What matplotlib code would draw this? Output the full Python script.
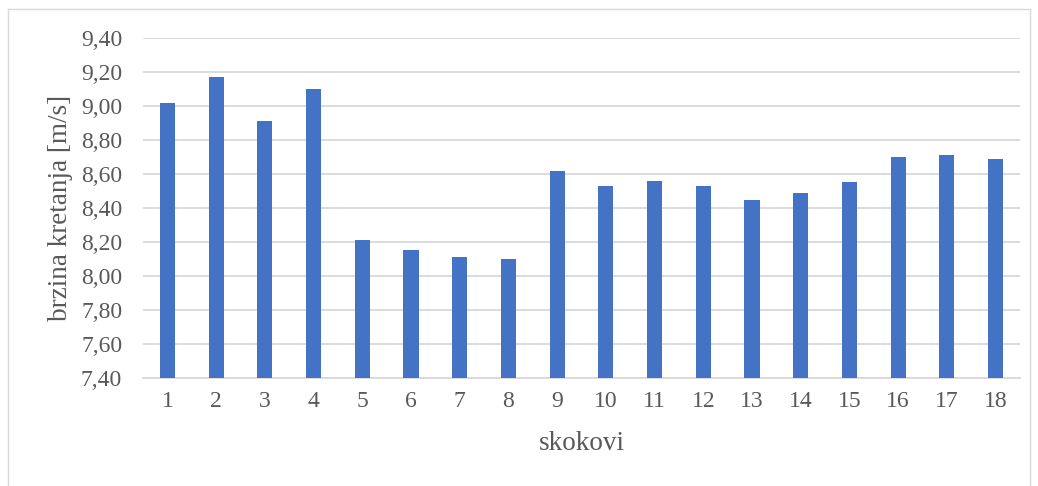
import matplotlib
matplotlib.use("Agg")
import matplotlib.pyplot as plt
from matplotlib.ticker import FuncFormatter, MultipleLocator
from matplotlib.lines import Line2D

# Jump numbers and movement speed per jump
jumps = [str(i) for i in range(1, 19)]
speeds = [9.02, 9.17, 8.91, 9.10, 8.21, 8.15, 8.11, 8.10, 8.62,
          8.53, 8.56, 8.53, 8.45, 8.49, 8.55, 8.70, 8.71, 8.69]
y_min, y_max, y_step = 7.40, 9.40, 0.20

plt.rcParams['font.family'] = ['Liberation Serif', 'DejaVu Serif']
text_color = '#595959'
grid_color = '#d9d9d9'
bar_color = '#4472C4'

fig = plt.figure(figsize=(10.38, 4.86), dpi=100)
ax = fig.add_axes([143 / 1038, 1 - 378 / 486, (1020 - 143) / 1038, (378 - 38) / 486])

x = list(range(len(jumps)))
ax.bar(x, [s - y_min for s in speeds], bottom=y_min, width=0.31, color=bar_color, zorder=3)

ax.set_xlim(-0.5, len(jumps) - 0.5)
ax.set_ylim(y_min, y_max)
ax.yaxis.set_major_locator(MultipleLocator(y_step))
ax.yaxis.set_major_formatter(FuncFormatter(lambda v, p: f"{v:.2f}".replace('.', ',')))
ax.set_xticks(x)
ax.set_xticklabels(jumps)

ax.grid(axis='y', color=grid_color, linewidth=1.3, zorder=0)
for side in ['top', 'right', 'left']:
    ax.spines[side].set_visible(False)
ax.spines['bottom'].set_color(grid_color)
ax.spines['bottom'].set_linewidth(1.3)

ax.tick_params(axis='both', length=0, labelsize=17, colors=text_color)
ax.tick_params(axis='y', pad=15)
ax.tick_params(axis='x', pad=9)

ax.set_ylabel('brzina kretanja [m/s]', fontsize=19.5, color=text_color, labelpad=6)
ax.set_xlabel('skokovi', fontsize=19.5, color=text_color, labelpad=14)

# Chart frame
W, H = 1038, 486
frame_kw = dict(color='#d9d9d9', linewidth=1.0, transform=fig.transFigure)
fig.add_artist(Line2D([8 / W, 8 / W], [0, 1 - 9 / H], **frame_kw))
fig.add_artist(Line2D([8 / W, 1030 / W], [1 - 9 / H, 1 - 9 / H], **frame_kw))
fig.add_artist(Line2D([1030 / W, 1030 / W], [0, 1 - 9 / H], **frame_kw))

fig.savefig('out.png', dpi=100)
